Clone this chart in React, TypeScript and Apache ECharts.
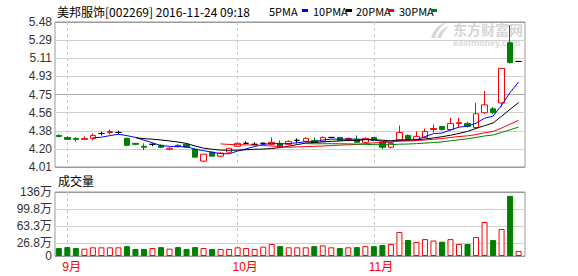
import React, { useEffect, useRef } from "react";
import * as echarts from "echarts";

// ---------- data ----------
const dates = [
  "2016-08-31",
  "2016-09-01", "2016-09-02", "2016-09-05", "2016-09-06", "2016-09-07", "2016-09-08", "2016-09-09",
  "2016-09-12", "2016-09-13", "2016-09-14", "2016-09-19", "2016-09-20", "2016-09-21", "2016-09-22",
  "2016-09-23", "2016-09-26", "2016-09-27", "2016-09-28", "2016-09-29", "2016-09-30",
  "2016-10-10", "2016-10-11", "2016-10-12", "2016-10-13", "2016-10-14", "2016-10-17", "2016-10-18",
  "2016-10-19", "2016-10-20", "2016-10-21", "2016-10-24", "2016-10-25", "2016-10-26", "2016-10-27",
  "2016-10-28", "2016-10-31",
  "2016-11-01", "2016-11-02", "2016-11-03", "2016-11-04", "2016-11-07", "2016-11-08", "2016-11-09",
  "2016-11-10", "2016-11-11", "2016-11-14", "2016-11-15", "2016-11-16", "2016-11-17", "2016-11-18",
  "2016-11-21", "2016-11-22", "2016-11-23", "2016-11-24",
];
const opens = [
  4.33, 4.31, 4.30, 4.29, 4.30, 4.35, 4.36, 4.36, 4.30, 4.25,
  4.22, 4.24, 4.23, 4.19, 4.23, 4.24, 4.19, 4.07, 4.16, 4.12,
  4.16, 4.22, 4.25, 4.24, 4.25, 4.24, 4.25, 4.24, 4.28, 4.27,
  4.28, 4.27, 4.31, 4.31, 4.29, 4.29, 4.26, 4.31, 4.26, 4.21,
  4.28, 4.33, 4.29, 4.31, 4.39, 4.42, 4.39, 4.45, 4.45, 4.41,
  4.56, 4.60, 4.66, 5.27, 5.08,
];
const closes = [
  4.32, 4.29, 4.29, 4.30, 4.33, 4.35, 4.37, 4.36, 4.23, 4.24,
  4.21, 4.24, 4.21, 4.20, 4.22, 4.21, 4.11, 4.14, 4.12, 4.15,
  4.20, 4.25, 4.25, 4.24, 4.25, 4.26, 4.22, 4.27, 4.28, 4.30,
  4.26, 4.31, 4.31, 4.28, 4.30, 4.26, 4.30, 4.28, 4.21, 4.25,
  4.36, 4.29, 4.32, 4.37, 4.40, 4.39, 4.45, 4.46, 4.42, 4.55,
  4.64, 4.56, 5.01, 5.07, 5.08,
];
const lows = [
  4.31, 4.29, 4.27, 4.29, 4.28, 4.33, 4.34, 4.34, 4.22, 4.23,
  4.18, 4.22, 4.20, 4.18, 4.21, 4.21, 4.11, 4.06, 4.12, 4.11,
  4.16, 4.22, 4.24, 4.24, 4.24, 4.23, 4.22, 4.23, 4.25, 4.26,
  4.25, 4.27, 4.30, 4.28, 4.27, 4.26, 4.25, 4.27, 4.19, 4.20,
  4.27, 4.29, 4.28, 4.31, 4.36, 4.38, 4.38, 4.41, 4.41, 4.40,
  4.55, 4.55, 4.62, 5.06, 5.08,
];
const highs = [
  4.34, 4.32, 4.31, 4.32, 4.35, 4.37, 4.39, 4.38, 4.31, 4.25,
  4.25, 4.25, 4.24, 4.21, 4.24, 4.25, 4.20, 4.14, 4.17, 4.16,
  4.20, 4.26, 4.27, 4.26, 4.26, 4.31, 4.28, 4.28, 4.30, 4.31,
  4.31, 4.32, 4.31, 4.31, 4.31, 4.33, 4.31, 4.31, 4.26, 4.26,
  4.43, 4.34, 4.37, 4.40, 4.44, 4.42, 4.51, 4.51, 4.47, 4.66,
  4.78, 4.62, 5.01, 5.45, 5.08,
];
// volume, in 万
const volumes = [
  17, 19, 17, 15.6, 18.5, 18.5, 18.5, 18.5, 21, 15,
  15, 17, 19, 15.6, 19, 15, 19, 17, 15, 15,
  15, 18.5, 17, 15, 20, 25.6, 21, 18.5, 18.5, 18.5,
  21, 22.7, 18.5, 17, 18.5, 19, 21, 21, 23.4, 25.6,
  51, 34, 30, 36, 33, 30.5, 36, 25.6, 25.6, 40.5,
  72.4, 34, 57.5, 128, 10.7,
];
const priceMin = 4.01;
const priceMax = 5.48;
const priceTickLabels = ["4.01", "4.20", "4.38", "4.56", "4.75", "4.93", "5.11", "5.29", "5.48"];
const volumeMax = 136.3;
const volumeTicks = [0, 26.8, 63.3, 99.8, 136.3];
const volumeTickLabels = ["0", "26.8万", "63.3万", "99.8万", "136万"];
const maPeriods = [5, 10, 20, 30];
const maNames = ["5PMA", "10PMA", "20PMA", "30PMA"];
const maColors = ["#0000ff", "#000000", "#ff0000", "#008000"];
const titleText = "美邦服饰[002269] 2016-11-24 09:18";
const volumeTitle = "成交量";

// ---------- helpers ----------
const UP = "#ff0000";
const DOWN = "#008000";

const monthStarts: number[] = dates
  .map((d, i) => (i > 0 && d.slice(5, 7) !== dates[i - 1].slice(5, 7) ? i : -1))
  .filter((i) => i >= 0);
const LABEL_SHIFT = 0.6;

function movingAverage(n: number) {
  const out: number[][] = [];
  for (let i = n - 1; i < closes.length; i++) {
    let s = 0;
    for (let k = i - n + 1; k <= i; k++) s += closes[k];
    out.push([i, +(s / n).toFixed(4)]);
  }
  return out;
}

let logoRegistered = false;
function registerLogo() {
  if (logoRegistered) return;
  logoRegistered = true;
  echarts.graphic.registerShape(
    "emLogo",
    echarts.graphic.extendPath(
      "M1 16 C3 8 9 2 17 0 C11 4 7 9 5 16 Z M7 16 C9 10 13 6 19 4 C15 8 12 12 11 16 Z",
      {}
    ) as any
  );
}

export default function App() {
  const ref = useRef<HTMLDivElement>(null);

  useEffect(() => {
    document.body.style.margin = "0";
    registerLogo();
    const chart = echarts.init(ref.current!, undefined, { renderer: "svg" });

    const priceTicks = priceTickLabels.map((_, k) =>
      Math.min(priceMax, Math.max(priceMin, priceMin + (k * (priceMax - priceMin)) / (priceTickLabels.length - 1)))
    );

    const candleData = dates.map((_, i) => {
      const v = [i, opens[i], closes[i], lows[i], highs[i]];
      if (opens[i] === closes[i]) {
        return {
          value: v,
          itemStyle: { color: "#000", color0: "#000", borderColor: "#000", borderColor0: "#000" },
        };
      }
      return v;
    });

    const volumeData = volumes.map((v, i) => ({
      value: [i, v],
      itemStyle:
        closes[i] >= opens[i]
          ? { color: "#ffffff", borderColor: UP, borderWidth: 1 }
          : { color: DOWN, borderColor: DOWN, borderWidth: 1 },
    }));

    const xMin = -0.45;
    const xMax = 54.75;
    const labelFont = "'Liberation Sans', 'Noto Sans CJK SC', sans-serif";

    const option: any = {
      animation: false,
      backgroundColor: "#ffffff",
      grid: [
        { left: 55, top: 22, width: 470, height: 145, show: true, borderColor: "#999", borderWidth: 1, backgroundColor: "transparent", outerBoundsMode: "none" },
        { left: 55, top: 192, width: 470, height: 64, show: true, borderColor: "#999", borderWidth: 1, backgroundColor: "transparent", outerBoundsMode: "none" },
      ],
      xAxis: [
        {
          gridIndex: 0,
          type: "value",
          min: xMin,
          max: xMax,
          axisLine: { show: false },
          axisTick: { show: false, customValues: monthStarts },
          axisLabel: { show: false },
          splitLine: { show: true, lineStyle: { color: "#c8c8c8", type: [3, 3], width: 1 } },
        },
        {
          gridIndex: 1,
          type: "value",
          min: xMin,
          max: xMax,
          axisLine: { show: false },
          axisTick: { show: false, customValues: monthStarts },
          axisLabel: {
            show: true,
            customValues: monthStarts.map((i) => i - LABEL_SHIFT),
            formatter: (v: number) => {
              const idx = Math.round(v + LABEL_SHIFT);
              const d = dates[idx];
              return d ? `${parseInt(d.slice(5, 7), 10)}月` : "";
            },
            color: "#ff0000",
            fontSize: 12,
            fontFamily: labelFont,
            align: "left",
            margin: 5,
          },
          splitLine: { show: true, lineStyle: { color: "#c8c8c8", type: [3, 3], width: 1 } },
        },
      ],
      yAxis: [
        {
          gridIndex: 0,
          type: "value",
          min: priceMin,
          max: priceMax,
          axisLine: { show: false },
          axisTick: { show: false, customValues: priceTicks },
          axisLabel: {
            customValues: priceTicks,
            formatter: (v: number) => {
              let best = 0;
              priceTicks.forEach((t, k) => {
                if (Math.abs(t - v) < Math.abs(priceTicks[best] - v)) best = k;
              });
              return priceTickLabels[best];
            },
            color: "#333",
            fontSize: 12,
            fontFamily: labelFont,
            margin: 3,
          },
          splitLine: {
            show: true,
            lineStyle: {
              color: ["#999", "#d0d0d0", "#d0d0d0", "#d0d0d0", "#a8a8a8", "#d0d0d0", "#d0d0d0", "#d0d0d0", "#999"],
              width: 1,
            },
          },
        },
        {
          gridIndex: 1,
          type: "value",
          min: 0,
          max: volumeMax,
          axisLine: { show: false },
          axisTick: { show: false, customValues: volumeTicks },
          axisLabel: {
            customValues: volumeTicks,
            formatter: (v: number) => {
              let best = 0;
              volumeTicks.forEach((t, k) => {
                if (Math.abs(t - v) < Math.abs(volumeTicks[best] - v)) best = k;
              });
              return volumeTickLabels[best];
            },
            color: "#333",
            fontSize: 12,
            fontFamily: labelFont,
            margin: 3,
          },
          splitLine: {
            show: true,
            lineStyle: { color: ["#999", "#d0d0d0", "#d0d0d0", "#d0d0d0", "#999"], width: 1 },
          },
        },
      ],
      series: [
        {
          name: "K",
          type: "candlestick",
          xAxisIndex: 0,
          yAxisIndex: 0,
          barWidth: 6,
          data: candleData,
          itemStyle: {
            color: "#ffffff",
            color0: DOWN,
            borderColor: UP,
            borderColor0: DOWN,
            borderWidth: 1,
          },
        },
        ...maPeriods.map((n, k) => ({
          name: maNames[k],
          type: "line",
          xAxisIndex: 0,
          yAxisIndex: 0,
          data: movingAverage(n),
          symbol: "none",
          showSymbol: false,
          lineStyle: { color: maColors[k], width: 1 },
          itemStyle: { color: maColors[k] },
        })),
        {
          name: volumeTitle,
          type: "bar",
          xAxisIndex: 1,
          yAxisIndex: 1,
          barWidth: 6,
          data: volumeData,
        },
      ],
      graphic: [
        // watermark
        {
          type: "emLogo",
          x: 430,
          y: 22,
          scaleX: 1,
          scaleY: 1,
          z: 0,
          silent: true,
          style: { fill: "#d6d6d6" },
        },
        {
          type: "text",
          x: 453,
          y: 29,
          z: 0,
          silent: true,
          style: {
            text: "东方财富网",
            fill: "#d6d6d6",
            fontSize: 14,
            lineHeight: 14,
            fontWeight: "bold",
            fontFamily: "'Noto Sans CJK SC', sans-serif",
            verticalAlign: "middle",
          },
        },
        {
          type: "text",
          x: 453,
          y: 43,
          z: 0,
          silent: true,
          style: {
            text: "eastmoney.com",
            fill: "#dadada",
            fontSize: 9,
            lineHeight: 9,
            fontWeight: "bold",
            fontFamily: "'Liberation Sans', sans-serif",
            verticalAlign: "middle",
          },
        },
        // title
        {
          type: "text",
          x: 57,
          y: 11,
          style: {
            text: titleText,
            fill: "#000",
            fontSize: 12,
            fontFamily: "'Noto Sans CJK SC', sans-serif",
            verticalAlign: "middle",
          },
        },
        // MA legend
        ...maNames.flatMap((name, k) => {
          const tx = [269, 313, 356, 399][k];
          const rx = [302, 346, 388, 431][k];
          return [
            {
              type: "text",
              x: tx,
              y: 11,
              style: {
                text: name,
                fill: "#000",
                fontSize: 11,
                fontFamily: "'Noto Sans CJK SC', sans-serif",
                verticalAlign: "middle",
              },
            },
            {
              type: "rect",
              shape: { x: rx, y: 9, width: 6, height: 3 },
              style: { fill: maColors[k] },
            },
          ];
        }),
        // volume title
        {
          type: "text",
          x: 58,
          y: 180,
          style: {
            text: volumeTitle,
            fill: "#000",
            fontSize: 12,
            fontFamily: "'Noto Sans CJK SC', sans-serif",
            verticalAlign: "middle",
          },
        },
      ],
    };

    chart.setOption(option);
    return () => {
      chart.dispose();
    };
  }, []);

  return <div ref={ref} style={{ width: 578, height: 276 }} />;
}
